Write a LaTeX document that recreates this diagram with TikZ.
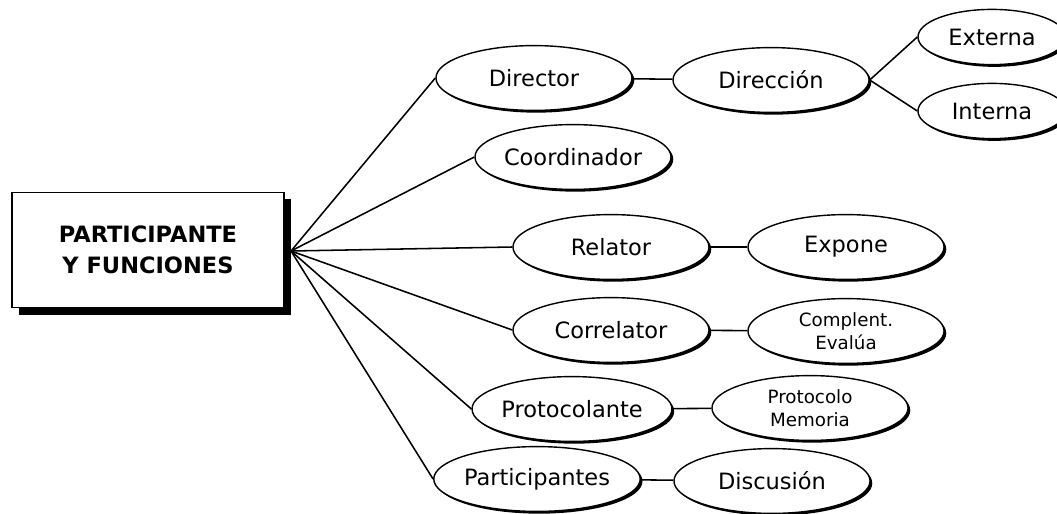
\documentclass[tikz,border=0pt]{standalone}
\usepackage{fontspec}
\setmainfont{DejaVu Sans}
\usetikzlibrary{shapes.geometric,shadows}

\tikzset{
    rol/.style={ellipse, draw, line width=1pt, fill=white, inner sep=0pt,
        minimum width=4.9cm, minimum height=1.62cm, align=center,
        font=\fontsize{16}{18}\selectfont,
        drop shadow={shadow xshift=1.6pt, shadow yshift=-1.6pt, fill=black, opacity=1}},
    rolsmall/.style={rol, font=\fontsize{13}{16}\selectfont},
    rolnarrow/.style={rol, minimum width=3.7cm, minimum height=1.38cm},
    titlebox/.style={rectangle, draw, line width=1pt, fill=white, align=center,
        minimum width=6.8cm, minimum height=2.88cm,
        font=\bfseries\fontsize{16}{22}\selectfont,
        drop shadow={shadow xshift=5pt, shadow yshift=-5pt, fill=black, opacity=1}},
    rama/.style={line width=1.1pt}
}

\begin{document}
\begin{tikzpicture}[x=0.025cm, y=-0.025cm]
        \useasboundingbox (0,0) rectangle (1057,513);
        % caja principal
        \node [titlebox] (main) at (148,250) {PARTICIPANTE\\Y FUNCIONES};
        \coordinate (hub) at (291,251);
        % primer nivel
        \node [rol] (dir) at (534,78) {Director};
        \node [rol] (coord) at (573,157) {Coordinador};
        \node [rol] (rel) at (611,247) {Relator};
        \node [rol] (corr) at (611,330) {Correlator};
        \node [rol] (prot) at (572,409) {Protocolante};
        \node [rol] (part) at (537,479) {Participantes};
        % segundo nivel
        \node [rol] (direc) at (771,80) {Dirección};
        \node [rol] (expo) at (846,247) {Expone};
        \node [rolsmall] (compl) at (846,331) {Complent.\\Evalúa};
        \node [rolsmall] (memo) at (810,408) {Protocolo\\Memoria};
        \node [rol] (disc) at (772,481) {Discusión};
        % tercer nivel
        \node [rolnarrow] (ext) at (992,37) {Externa};
        \node [rolnarrow] (int) at (992,111) {Interna};
        % conectores
        \foreach \r in {dir,coord,rel,corr,prot,part}
            \draw [rama] (hub) -- (\r.west);
        \draw [rama] (dir) -- (direc);
        \draw [rama] (direc.east) -- (ext.west);
        \draw [rama] (direc.east) -- (int.west);
        \draw [rama] (rel) -- (expo);
        \draw [rama] (corr) -- (compl);
        \draw [rama] (prot) -- (memo);
        \draw [rama] (part) -- (disc);
    \end{tikzpicture}
\end{document}
